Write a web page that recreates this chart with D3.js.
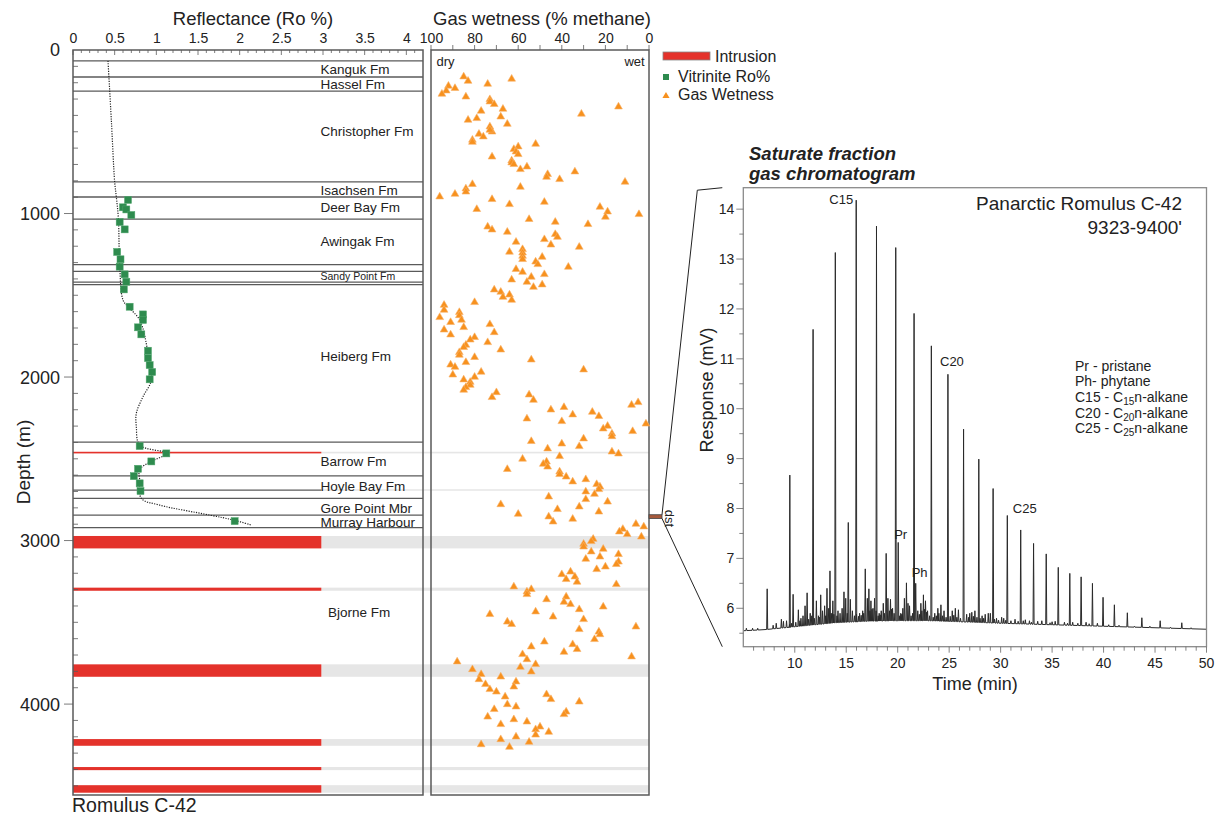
<!DOCTYPE html>
<html>
<head>
<meta charset="utf-8">
<script src="https://cdn.jsdelivr.net/npm/d3@7"></script>
<style>
body { margin:0; background:#fff; }
svg text { font-family: "Liberation Sans", Arial, sans-serif; fill:#222; }
</style>
</head>
<body>
<div id="chart-area"></div>
<script>
// ---------------- data ----------------
// well log (depth in m)
var roTicks = [0, 0.5, 1, 1.5, 2, 2.5, 3, 3.5, 4];
var gasTicks = [100, 80, 60, 40, 20, 0];
var depthTicks = [0, 1000, 2000, 3000, 4000];

var formationTops = [67, 165, 251, 807, 899, 1034, 1313, 1354, 1419, 1435, 2398, 2604, 2742, 2844, 2921];
var partialTops = [2691];
var formationNames = ["Kanguk Fm", "Hassel Fm", "Christopher Fm", "Isachsen Fm", "Deer Bay Fm", "Awingak Fm",
    "Sandy Point Fm", "Heiberg Fm", "Barrow Fm", "Hoyle Bay Fm", "Gore Point Mbr", "Murray Harbour", "Bjorne Fm"];
var formationLabelDepth = [116, 212, 500, 856, 963, 1172, 1386, 1871, 2518, 2671, 2800, 2888, 3437];

var intrusions = [[2457, 2467], [2972, 3048], [3288, 3307], [3757, 3833], [4214, 4255], [4385, 4404], [4496, 4542]];
var dstInterval = [2842, 2865];

// vitrinite reflectance [Ro %, depth]
var roSamples = [[0.66,917],[0.60,962],[0.64,975],[0.70,1009],[0.56,1052],[0.62,1097],[0.53,1235],[0.57,1280],
    [0.56,1325],[0.62,1372],[0.64,1417],[0.61,1464],[0.68,1570],[0.84,1617],[0.84,1651],[0.78,1696],[0.82,1739],
    [0.90,1839],[0.90,1884],[0.92,1927],[0.95,1969],[0.92,2014],[0.80,2422],[1.12,2467],[0.94,2516],[0.78,2561],
    [0.73,2606],[0.80,2650],[0.81,2697],[1.94,2881]];

// dotted Ro trend [Ro %, depth]
var roTrend = [[0.42,67],[0.46,428],[0.50,807],[0.52,899],[0.545,1034],[0.56,1313],[0.60,1529],[0.66,1570],
    [0.80,1651],[0.90,1853],[0.94,2018],[0.84,2120],[0.76,2222],[0.76,2304],[0.80,2416],[1.12,2467],[0.94,2516],
    [0.80,2565],[0.80,2630],[0.82,2742],[1.04,2783],[1.64,2844],[1.93,2875],[2.14,2905]];

// gas wetness [% methane, depth]
var gasSamples = [[85,163],[83,190],[92,220],[89,234],[93,249],[95,269],[84,286],[74,208],[63,177],[73,302],
    [73,316],[71,332],[67,361],[77,373],[68,408],[79,418],[83,428],[31,391],[14,347],[73,469],[72,500],[73,489],
    [65,453],[78,514],[76,530],[81,550],[81,563],[52,575],[62,607],[60,591],[61,622],[60,638],[72,653],[63,677],
    [63,689],[62,699],[56,714],[59,730],[34,744],[46.5,760],[47,777],[41,791],[11,807],[81,821],[59,838],[84,848],
    [84,867],[96,897],[89,881],[72,913],[64,944],[48,930],[79,974],[22.5,960],[19,989],[20,1021],[4.6,1005],
    [55,1035],[43,1052],[28,1066],[74,1081],[72,1099],[65,1113],[43,1127],[42,1144],[48,1158],[61,1174],[45,1191],
    [32,1205],[58,1219],[58,1240],[58,1260],[58,1280],[64,1235],[49,1266],[52,1295],[51,1311],[37,1327],[61,1341],
    [58,1358],[48,1372],[54,1388],[63,1405],[56,1419],[53,1450],[49,1435],[71,1466],[68,1480],[67,1511],[64,1497],
    [63,1529],[80,1543],[94,1560],[94,1590],[96,1635],[87,1604],[87,1623],[86,1651],[91,1665],[73,1678],[85,1696],
    [94,1711],[71,1727],[91,1741],[80,1757],[82,1772],[74,1788],[84,1804],[85,1818],[68,1833],[87,1849],[87,1865],
    [80,1879],[54,1894],[84,1910],[91,1925],[89,1939],[30,1955],[77,1969],[90,1986],[80,2000],[85,2016],[82,2031],
    [82,2049],[84,2063],[85,2079],[70,2094],[55,2108],[72,2124],[53,2141],[8,2171],[5,2155],[39,2185],[45,2200],
    [26,2214],[35,2230],[23,2240],[56,2255],[40,2271],[1.4,2286],[19,2300],[21,2316],[7.5,2332],[17,2347],[17,2363],
    [30,2377],[54,2393],[40,2408],[32,2424],[46.5,2438],[17,2457],[14,2469],[41,2485],[58,2501],[47,2518],
    [48.5,2532],[46.5,2549],[65,2564],[41,2579],[41,2595],[38,2610],[29,2626],[35,2640],[24,2656],[22.5,2671],
    [23,2687],[29,2701],[25,2716],[46,2732],[29,2748],[19,2763],[68,2779],[32,2793],[42,2809],[23,2824],[60,2838],
    [46,2854],[35,2868],[44,2885],[6,2899],[2.4,2915],[12,2930],[13.6,2946],[10,2962],[3.5,2977],[25.6,2991],
    [26.5,3005],[30,3021],[30,3038],[21,3052],[26.5,3068],[14,3084],[22.5,3099],[29,3113],[14,3130],[15,3145],
    [20,3160],[24,3176],[36,3191],[40,3207],[34,3221],[38,3237],[33,3253],[15,3268],[62,3282],[54,3298],[56,3313],
    [56,3329],[38,3344],[47,3360],[39,3376],[36,3390],[21,3405],[32,3421],[52,3435],[73,3451],[44,3466],[30,3482],
    [65,3497],[63,3512],[6,3527],[32,3543],[23,3558],[22.5,3574],[25,3604],[48,3619],[35,3635],[54,3649],[33,3665],
    [39,3682],[58,3696],[8,3710],[56,3727],[88,3741],[52,3757],[59,3774],[81,3788],[54,3802],[77,3818],[68,3833],
    [78,3849],[61,3863],[75,3879],[62,3894],[73,3910],[70,3925],[47,3941],[66,3955],[45,3971],[32,3986],[65,4002],
    [61,4016],[71,4032],[38,4047],[39,4063],[74,4078],[62,4094],[56,4108],[68,4124],[50,4139],[52,4155],[46,4171],
    [52,4188],[61,4200],[68,4216],[55,4232],[77,4247],[64,4263]];

// gas chromatogram (time min, response mV)
var chromXTicks = [10, 15, 20, 25, 30, 35, 40, 45, 50];
var chromYTicks = [6, 7, 8, 9, 10, 11, 12, 13, 14];
var alkaneTime = [7.32, 9.52, 11.78, 13.94, 15.97, 17.94, 19.81, 21.59, 23.27, 24.88, 26.4, 27.88, 29.27, 30.65,
    31.95, 33.2, 34.43, 35.6, 36.72, 37.82, 38.92, 39.95, 41.05, 42.31, 43.72, 45.5, 47.6];
var alkaneHeight = [6.39, 8.67, 11.59, 13.13, 14.18, 13.66, 13.23, 11.91, 11.26, 10.69, 9.59, 8.99, 8.40, 7.86,
    7.57, 7.30, 7.09, 6.82, 6.70, 6.63, 6.50, 6.22, 6.07, 5.91, 5.81, 5.75, 5.71];
var minorPeaks = [[5.3,5.6],[5.9,5.6],[6.4,5.6],[7.9,5.66],[8.2,5.7],[8.7,5.78],[8.9,5.74],[9.2,5.75],[9.84,6.28],
    [10.1,5.72],[10.35,5.97],[10.6,5.8],[10.8,5.85],[11.0,6.05],[11.2,6.31],[11.5,5.9],[11.65,5.85],[12.1,6.15],
    [12.3,5.85],[12.52,6.27],[12.7,5.95],[12.9,6.05],[13.13,6.4],[13.3,6.0],[13.42,6.75],[13.7,6.15],[14.2,5.95],
    [14.4,5.9],[14.6,6.0],[14.78,6.33],[14.95,6.2],[15.2,7.72],[15.4,6.18],[15.6,5.95],[16.3,5.9],[16.6,5.95],
    [16.85,6.79],[17.05,6.2],[17.2,6.39],[17.4,6.15],[17.6,6.0],[17.75,6.2],[18.2,5.9],[18.4,5.95],[18.6,6.1],
    [18.88,7.1],[19.05,6.2],[19.3,6.18],[19.5,6.0],[20.05,7.32],[20.3,5.9],[20.5,6.0],[20.65,6.2],[20.85,6.51],
    [21.0,6.1],[21.15,6.05],[21.75,6.5],[21.95,5.95],[22.25,6.1],[22.5,6.27],[22.7,6.15],[22.9,5.95],[23.6,5.9],
    [23.9,6.0],[24.2,6.07],[24.5,5.95],[25.3,5.95],[25.6,6.0],[25.9,5.97],[26.7,5.88],[27.0,5.9],[27.2,5.92],
    [27.5,5.95],[28.2,5.85],[28.5,5.88],[28.8,5.9],[29.0,5.9],[29.6,5.8],[30.1,5.82],[30.3,5.8],[31.4,5.78],
    [32.4,5.77],[32.8,5.75],[33.6,5.74],[34.0,5.75],[35.0,5.73],[35.3,5.74],[36.2,5.72],[37.0,5.72],[38.3,5.72],
    [39.4,5.7],[40.5,5.67],[44.5,5.64]];
var humpNoise = [[9.5,5.68],[9.7,5.7],[10.5,5.75],[11.35,5.78],[11.9,5.8],[12.4,5.82],[13.0,5.85],[13.55,5.9],
    [13.8,5.88],[14.1,5.85],[15.1,5.9],[15.8,5.85],[16.0,5.88],[16.2,5.84],[16.45,5.86],[16.7,5.9],[17.3,5.95],
    [17.5,5.98],[17.9,5.95],[18.1,5.85],[18.3,5.87],[18.7,5.9],[19.2,5.95],[19.4,5.98],[19.65,5.9],[20.2,5.85],
    [20.4,5.88],[21.3,5.85],[21.45,5.9],[22.1,5.88],[22.35,5.95],[22.6,5.98],[22.8,5.92],[23.1,5.85],[23.45,5.82],
    [23.75,5.85],[24.0,5.9],[24.35,5.85],[24.7,5.82],[25.1,5.84],[25.45,5.86],[25.75,5.82],[26.1,5.8],[26.9,5.82],
    [27.35,5.84],[27.7,5.82],[28.0,5.8],[28.35,5.8],[29.4,5.78],[29.8,5.76],[30.5,5.76],[31.0,5.75],[31.7,5.74],
    [32.2,5.75],[33.0,5.72],[34.8,5.71],[36.5,5.7],[37.5,5.7],[38.6,5.69],[41.5,5.66],[43.0,5.64],[46.5,5.62],
    [48.5,5.61]];
var baseTime = [5, 6, 7, 8, 9, 10, 12, 14, 17, 20, 23, 26, 30, 35, 40, 45, 50];
var baseValue = [5.55, 5.56, 5.57, 5.59, 5.61, 5.63, 5.67, 5.71, 5.74, 5.75, 5.75, 5.73, 5.70, 5.67, 5.64, 5.61, 5.58];

var peakLabels = [["C15", 15.97, 14.1, "end"], ["C20", 24.88, 10.85, "mid"], ["Pr", 20.05, 7.38, "start"],
    ["Ph", 21.75, 6.62, "start"], ["C25", 31.95, 7.9, "mid"]];

// ---------------- setup ----------------
var svg = d3.select("#chart-area").append("svg")
    .attr("width", 1221)
    .attr("height", 818);

var depth = d3.scaleLinear().domain([0, 4556]).range([50, 795]);
var ro = d3.scaleLinear().domain([0, 4.2]).range([73, 423]);
var gas = d3.scaleLinear().domain([100, 0]).range([431, 649]);

var red = "#e4322b", green = "#2e8b4e", orange = "#f7911e", lineGrey = "#5a5a5a";

// ---------------- intrusions ----------------
var intr = svg.append("g");
intrusions.forEach(function(d){
    intr.append("rect")
        .attr("x", ro(2.98)).attr("width", gas(0) - ro(2.98))
        .attr("y", depth(d[0])).attr("height", depth(d[1]) - depth(d[0]))
        .attr("fill", "#e6e6e6");
    intr.append("rect")
        .attr("x", ro(0)).attr("width", ro(2.98) - ro(0))
        .attr("y", depth(d[0])).attr("height", depth(d[1]) - depth(d[0]))
        .attr("fill", red);
});
partialTops.forEach(function(d){
    intr.append("rect")
        .attr("x", ro(2.98)).attr("width", gas(0) - ro(2.98))
        .attr("y", depth(d) - 1).attr("height", 2)
        .attr("fill", "#ececec");
});

// ---------------- formation lines ----------------
svg.append("g").selectAll("line")
    .data(formationTops)
    .enter().append("line")
    .attr("x1", ro(0)).attr("x2", ro(4.2))
    .attr("y1", function(d){ return depth(d); })
    .attr("y2", function(d){ return depth(d); })
    .attr("stroke", lineGrey).attr("stroke-width", 1.3);

svg.append("g").selectAll("line")
    .data(partialTops)
    .enter().append("line")
    .attr("x1", ro(0)).attr("x2", ro(2.98))
    .attr("y1", function(d){ return depth(d); })
    .attr("y2", function(d){ return depth(d); })
    .attr("stroke", lineGrey).attr("stroke-width", 1.3);

formationNames.forEach(function(name, i){
    svg.append("text")
        .attr("x", name == "Bjorne Fm" ? ro(3.06) : ro(2.97))
        .attr("y", depth(formationLabelDepth[i]))
        .attr("dy", "0.35em")
        .attr("font-size", name == "Sandy Point Fm" ? "10.5px" : "13.5px")
        .attr("fill", "#333")
        .text(name);
});

// ---------------- panel frames ----------------
svg.append("rect")
    .attr("x", ro(0)).attr("y", depth(0))
    .attr("width", ro(4.2) - ro(0)).attr("height", depth(4556) - depth(0))
    .attr("fill", "none").attr("stroke", lineGrey).attr("stroke-width", 1.5);
svg.append("rect")
    .attr("x", gas(100)).attr("y", depth(0))
    .attr("width", gas(0) - gas(100)).attr("height", depth(4556) - depth(0))
    .attr("fill", "none").attr("stroke", lineGrey).attr("stroke-width", 1.5);

// Ro axis (top), ticks point inward
var roAxis = svg.append("g");
roAxis.selectAll("line")
    .data(d3.range(0, 42).map(function(i){ return i / 10; }))
    .enter().append("line")
    .attr("x1", function(d){ return ro(d); }).attr("x2", function(d){ return ro(d); })
    .attr("y1", depth(0))
    .attr("y2", function(d, i){ return depth(0) + (i % 5 == 0 ? 5 : 3); })
    .attr("stroke", lineGrey).attr("stroke-width", 0.8);
svg.append("g")
    .attr("transform", "translate(0," + (depth(0) - 2) + ")")
    .call(d3.axisTop(ro).tickValues(roTicks).tickSize(0).tickPadding(5).tickFormat(function(d){ return d; }))
    .call(function(g){ g.select(".domain").remove(); })
    .selectAll("text").attr("font-size", "14px").attr("fill", "#222");

svg.append("text")
    .attr("x", 253).attr("y", 25)
    .attr("text-anchor", "middle").attr("font-size", "18.5px")
    .text("Reflectance (Ro %)");

// gas axis (top), ticks point outward
svg.append("g").selectAll("line")
    .data(d3.range(0, 11).map(function(i){ return i * 10; }))
    .enter().append("line")
    .attr("x1", function(d){ return gas(d); }).attr("x2", function(d){ return gas(d); })
    .attr("y1", depth(0)).attr("y2", depth(0) - 5)
    .attr("stroke", lineGrey).attr("stroke-width", 0.8);
svg.append("g")
    .attr("transform", "translate(0," + (depth(0) - 2) + ")")
    .call(d3.axisTop(gas).tickValues(gasTicks).tickSize(0).tickPadding(5))
    .call(function(g){ g.select(".domain").remove(); })
    .selectAll("text").attr("font-size", "14px").attr("fill", "#222");

svg.append("text")
    .attr("x", 542).attr("y", 25)
    .attr("text-anchor", "middle").attr("font-size", "18.5px")
    .text("Gas wetness (% methane)");

svg.append("text").attr("x", gas(97.5)).attr("y", 66).attr("font-size", "13px").text("dry");
svg.append("text").attr("x", gas(2)).attr("y", 66).attr("font-size", "13px")
    .attr("text-anchor", "end").text("wet");

// depth axis
svg.append("g").selectAll("line")
    .data(d3.range(1, 46).map(function(i){ return i * 100; }))
    .enter().append("line")
    .attr("x1", ro(0))
    .attr("x2", function(d){ return d % 1000 == 0 ? ro(0) - 9 : ro(0) + 5; })
    .attr("y1", function(d){ return depth(d); })
    .attr("y2", function(d){ return depth(d); })
    .attr("stroke", lineGrey).attr("stroke-width", 0.8);

svg.append("g").selectAll("text")
    .data(depthTicks)
    .enter().append("text")
    .attr("x", 60)
    .attr("y", function(d){ return depth(d); })
    .attr("dy", "0.36em")
    .attr("text-anchor", "end")
    .attr("font-size", "18px")
    .text(function(d){ return d; });

svg.append("text")
    .attr("transform", "translate(30,462) rotate(-90)")
    .attr("text-anchor", "middle").attr("font-size", "19px")
    .text("Depth (m)");

svg.append("text")
    .attr("x", 72).attr("y", 812)
    .attr("font-size", "19.5px")
    .text("Romulus C-42");

// ---------------- Ro trend and samples ----------------
var trendLine = d3.line()
    .x(function(d){ return ro(d[0]); })
    .y(function(d){ return depth(d[1]); })
    .curve(d3.curveCatmullRom.alpha(0.5));

svg.append("path")
    .datum(roTrend)
    .attr("d", trendLine)
    .attr("fill", "none")
    .attr("stroke", "#222")
    .attr("stroke-width", 1.2)
    .attr("stroke-dasharray", "1.2,1.3");

svg.append("g").selectAll("rect")
    .data(roSamples)
    .enter().append("rect")
    .attr("x", function(d){ return ro(d[0]) - 3.5; })
    .attr("y", function(d){ return depth(d[1]) - 3.5; })
    .attr("width", 7).attr("height", 7)
    .attr("fill", green)
    .attr("stroke", "#4fa56c").attr("stroke-width", 0.5);

// ---------------- gas wetness ----------------
var tri = d3.symbol().type(d3.symbolTriangle).size(26);
svg.append("g").selectAll("path")
    .data(gasSamples)
    .enter().append("path")
    .attr("d", tri)
    .attr("transform", function(d){ return "translate(" + gas(d[0]) + "," + depth(d[1]) + ")"; })
    .attr("fill", orange)
    .attr("stroke", "#f9b26a").attr("stroke-width", 0.6);

// ---------------- legend ----------------
var legend = svg.append("g");
legend.append("rect").attr("x", 663).attr("y", 52).attr("width", 47).attr("height", 8)
    .attr("fill", red).attr("stroke", "#888").attr("stroke-width", 0.8);
legend.append("text").attr("x", 715).attr("y", 62).attr("font-size", "16px").text("Intrusion");
legend.append("rect").attr("x", 663).attr("y", 74).attr("width", 6).attr("height", 6).attr("fill", green);
legend.append("text").attr("x", 678).attr("y", 82).attr("font-size", "16px").text("Vitrinite Ro%");
legend.append("path").attr("d", d3.symbol().type(d3.symbolTriangle).size(22))
    .attr("transform", "translate(666,96)").attr("fill", orange);
legend.append("text").attr("x", 678).attr("y", 100).attr("font-size", "16px").text("Gas Wetness");

// ---------------- chromatogram ----------------
var ct = d3.scaleLinear().domain([5, 50]).range([743.3, 1206.5]);
var cr = d3.scaleLinear().domain([5.23, 14.43]).range([646.7, 187.7]);
var baseAt = d3.scaleLinear().domain(baseTime).range(baseValue);

// dst marker and connectors
svg.append("rect")
    .attr("x", gas(0)).attr("y", depth(dstInterval[0]))
    .attr("width", 13).attr("height", depth(dstInterval[1]) - depth(dstInterval[0]))
    .attr("fill", "#a65a3c").attr("stroke", "#444").attr("stroke-width", 0.8);
svg.append("text")
    .attr("transform", "translate(665," + (depth(dstInterval[0]) - 5) + ") rotate(90)")
    .attr("font-size", "13px").text("dst");

var conn = d3.line();
svg.append("path")
    .attr("d", conn([[gas(0) + 13, depth(dstInterval[0])], [ct(5) - 46, cr(14.43) + 2.5], [ct(5) - 21, cr(14.43)]]))
    .attr("fill", "none").attr("stroke", "#222").attr("stroke-width", 1);
svg.append("path")
    .attr("d", conn([[gas(0) + 13, depth(dstInterval[1])], [ct(5) - 21, cr(5.23)]]))
    .attr("fill", "none").attr("stroke", "#222").attr("stroke-width", 1);

svg.append("text").attr("x", 749).attr("y", 160)
    .attr("font-size", "18.5px").attr("font-weight", "bold").attr("font-style", "italic")
    .text("Saturate fraction");
svg.append("text").attr("x", 749).attr("y", 180)
    .attr("font-size", "18.5px").attr("font-weight", "bold").attr("font-style", "italic")
    .text("gas chromatogram");

// trace
var peaks = alkaneTime.map(function(t, i){ return [t, alkaneHeight[i]]; })
    .concat(minorPeaks).concat(humpNoise)
    .sort(function(a, b){ return a[0] - b[0]; });
var trace = [[5, baseAt(5)]];
var w = 0.05;
peaks.forEach(function(p){
    trace.push([p[0] - w, baseAt(p[0] - w)]);
    trace.push([p[0], p[1]]);
    trace.push([p[0] + w, baseAt(p[0] + w)]);
});
trace.push([50, baseAt(50)]);

var chromLine = d3.line()
    .x(function(d){ return ct(d[0]); })
    .y(function(d){ return cr(d[1]); });

svg.append("path")
    .datum(trace)
    .attr("d", chromLine)
    .attr("fill", "none")
    .attr("stroke", "#2a2a2a")
    .attr("stroke-width", 1)
    .attr("stroke-linejoin", "round");

// frame
svg.append("rect")
    .attr("x", ct(5)).attr("y", cr(14.43))
    .attr("width", ct(50) - ct(5)).attr("height", cr(5.23) - cr(14.43))
    .attr("fill", "none").attr("stroke", "#8a8a8a").attr("stroke-width", 1.3);

// y axis
svg.append("g").selectAll("line")
    .data(d3.range(11, 29).map(function(i){ return i / 2; }))
    .enter().append("line")
    .attr("x1", ct(5))
    .attr("x2", function(d){ return ct(5) - (d % 1 == 0 ? 7 : 4); })
    .attr("y1", function(d){ return cr(d); })
    .attr("y2", function(d){ return cr(d); })
    .attr("stroke", "#666").attr("stroke-width", 0.8);
svg.append("g").selectAll("text")
    .data(chromYTicks)
    .enter().append("text")
    .attr("x", ct(5) - 9)
    .attr("y", function(d){ return cr(d); })
    .attr("dy", "0.35em")
    .attr("text-anchor", "end")
    .attr("font-size", "14px")
    .text(function(d){ return d; });
svg.append("text")
    .attr("transform", "translate(713,390) rotate(-90)")
    .attr("text-anchor", "middle").attr("font-size", "18px")
    .text("Response (mV)");

// x axis
svg.append("g").selectAll("line")
    .data(d3.range(6, 51))
    .enter().append("line")
    .attr("x1", function(d){ return ct(d); })
    .attr("x2", function(d){ return ct(d); })
    .attr("y1", cr(5.23))
    .attr("y2", function(d){ return cr(5.23) + (d % 5 == 0 ? 6 : 4); })
    .attr("stroke", "#666").attr("stroke-width", 0.8);
svg.append("g").selectAll("text")
    .data(chromXTicks)
    .enter().append("text")
    .attr("x", function(d){ return ct(d); })
    .attr("y", cr(5.23) + 21)
    .attr("text-anchor", "middle")
    .attr("font-size", "14px")
    .text(function(d){ return d; });
svg.append("text")
    .attr("x", 975).attr("y", 690)
    .attr("text-anchor", "middle").attr("font-size", "18px")
    .text("Time (min)");

// peak labels
peakLabels.forEach(function(p){
    var x = ct(p[1]);
    var anchor = "start";
    if (p[3] == "end") { x = x - 3; anchor = "end"; }
    if (p[3] == "mid") { anchor = "middle"; x = x + 4; }
    if (p[3] == "start") { x = x - 4; }
    svg.append("text")
        .attr("x", x).attr("y", cr(p[2]))
        .attr("text-anchor", anchor)
        .attr("font-size", "13px")
        .text(p[0]);
});

// well id
svg.append("text").attr("x", 1182).attr("y", 210)
    .attr("text-anchor", "end").attr("font-size", "19px").text("Panarctic Romulus C-42");
svg.append("text").attr("x", 1182).attr("y", 234)
    .attr("text-anchor", "end").attr("font-size", "19px").text("9323-9400'");

// key
var key = svg.append("g").attr("font-size", "14px");
key.append("text").attr("x", 1075).attr("y", 371).text("Pr - pristane");
key.append("text").attr("x", 1075).attr("y", 386).text("Ph- phytane");
[["C15", "15"], ["C20", "20"], ["C25", "25"]].forEach(function(k, i){
    var t = key.append("text").attr("x", 1075).attr("y", 402 + i * 15.5);
    t.append("tspan").text(k[0] + " - C");
    t.append("tspan").attr("font-size", "10px").attr("dy", 3).text(k[1]);
    t.append("tspan").attr("dy", -3).text("n-alkane");
});
</script>
</body>
</html>
